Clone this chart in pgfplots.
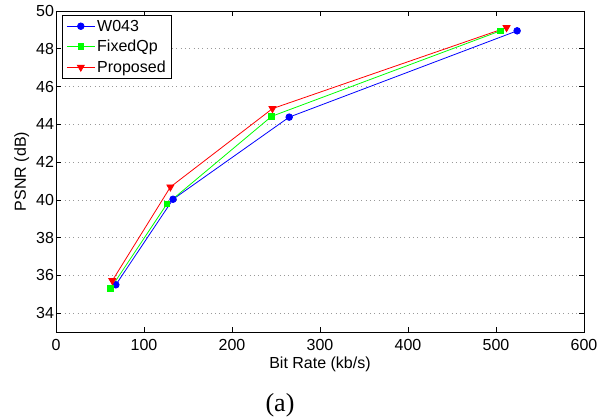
\documentclass[border=0pt]{standalone}
\usepackage{pgfplots}
\pgfplotsset{compat=1.18}
\usepackage{fontspec}
\setmainfont{Liberation Sans}
\newfontfamily\capfont{Liberation Serif}
\definecolor{mgreen}{rgb}{0,1,0}
\begin{document}
\begin{tikzpicture}
\begin{axis}[
  scale only axis, width=528pt, height=321pt,
  xmin=0, xmax=600, ymin=33, ymax=50,
  xtick={0,100,...,600}, ytick={34,36,...,50},
  tick align=inside, major tick length=5pt,
  every tick/.style={black, line width=0.6pt},
  axis line style={line width=0.8pt},
  ymajorgrids, grid style={gray!80, line width=0.6pt, dash pattern=on 0.8pt off 3.5pt},
  font=\fontsize{16}{19}\selectfont,
  /pgf/number format/assume math mode=true,
  xticklabel style={yshift=-3.5pt},
  yticklabel style={xshift=1.5pt},
  xlabel={Bit Rate (kb/s)}, ylabel={PSNR (dB)},
  xlabel style={at={(axis description cs:0.5,0)}, anchor=base, yshift=-36pt},
  legend style={at={(axis description cs:0,1)}, anchor=north west, xshift=6pt, yshift=-4pt,
    draw=black, line width=0.8pt, font=\fontsize{16}{19}\selectfont, cells={anchor=west},
    inner xsep=4pt, inner ysep=2.5pt, row sep=3.5pt},
  legend image code/.code={\draw[mark repeat=2,mark phase=2] plot coordinates {(0pt,0pt) (14pt,0pt) (28pt,0pt)};},
]
\addplot[blue, line width=0.8pt, mark=*, mark size=3.3pt, mark options={solid}] coordinates {
 (68,35.5) (133,40.03) (265,44.38) (524,48.95)};
\addlegendentry{W043}
\addplot[mgreen, line width=0.8pt, mark=square*, mark size=2.8pt] coordinates {
 (62,35.3) (126,39.78) (245,44.42) (505,48.95)};
\addlegendentry{FixedQp}
\addplot[red, line width=0.8pt, mark=triangle*, mark size=4pt, mark options={rotate=180}] coordinates {
 (64,35.72) (130,40.68) (246,44.83) (512,49.12)};
\addlegendentry{Proposed}
\end{axis}
\node[font=\capfont\fontsize{26}{30}\selectfont, anchor=base] at ([shift={(224pt,-79pt)}]current axis.south west) {(a)};
\pgfresetboundingbox
\path ([shift={(-56pt,-85pt)}]current axis.south west) rectangle ([shift={(25pt,11pt)}]current axis.north east);
\end{tikzpicture}
\end{document}
